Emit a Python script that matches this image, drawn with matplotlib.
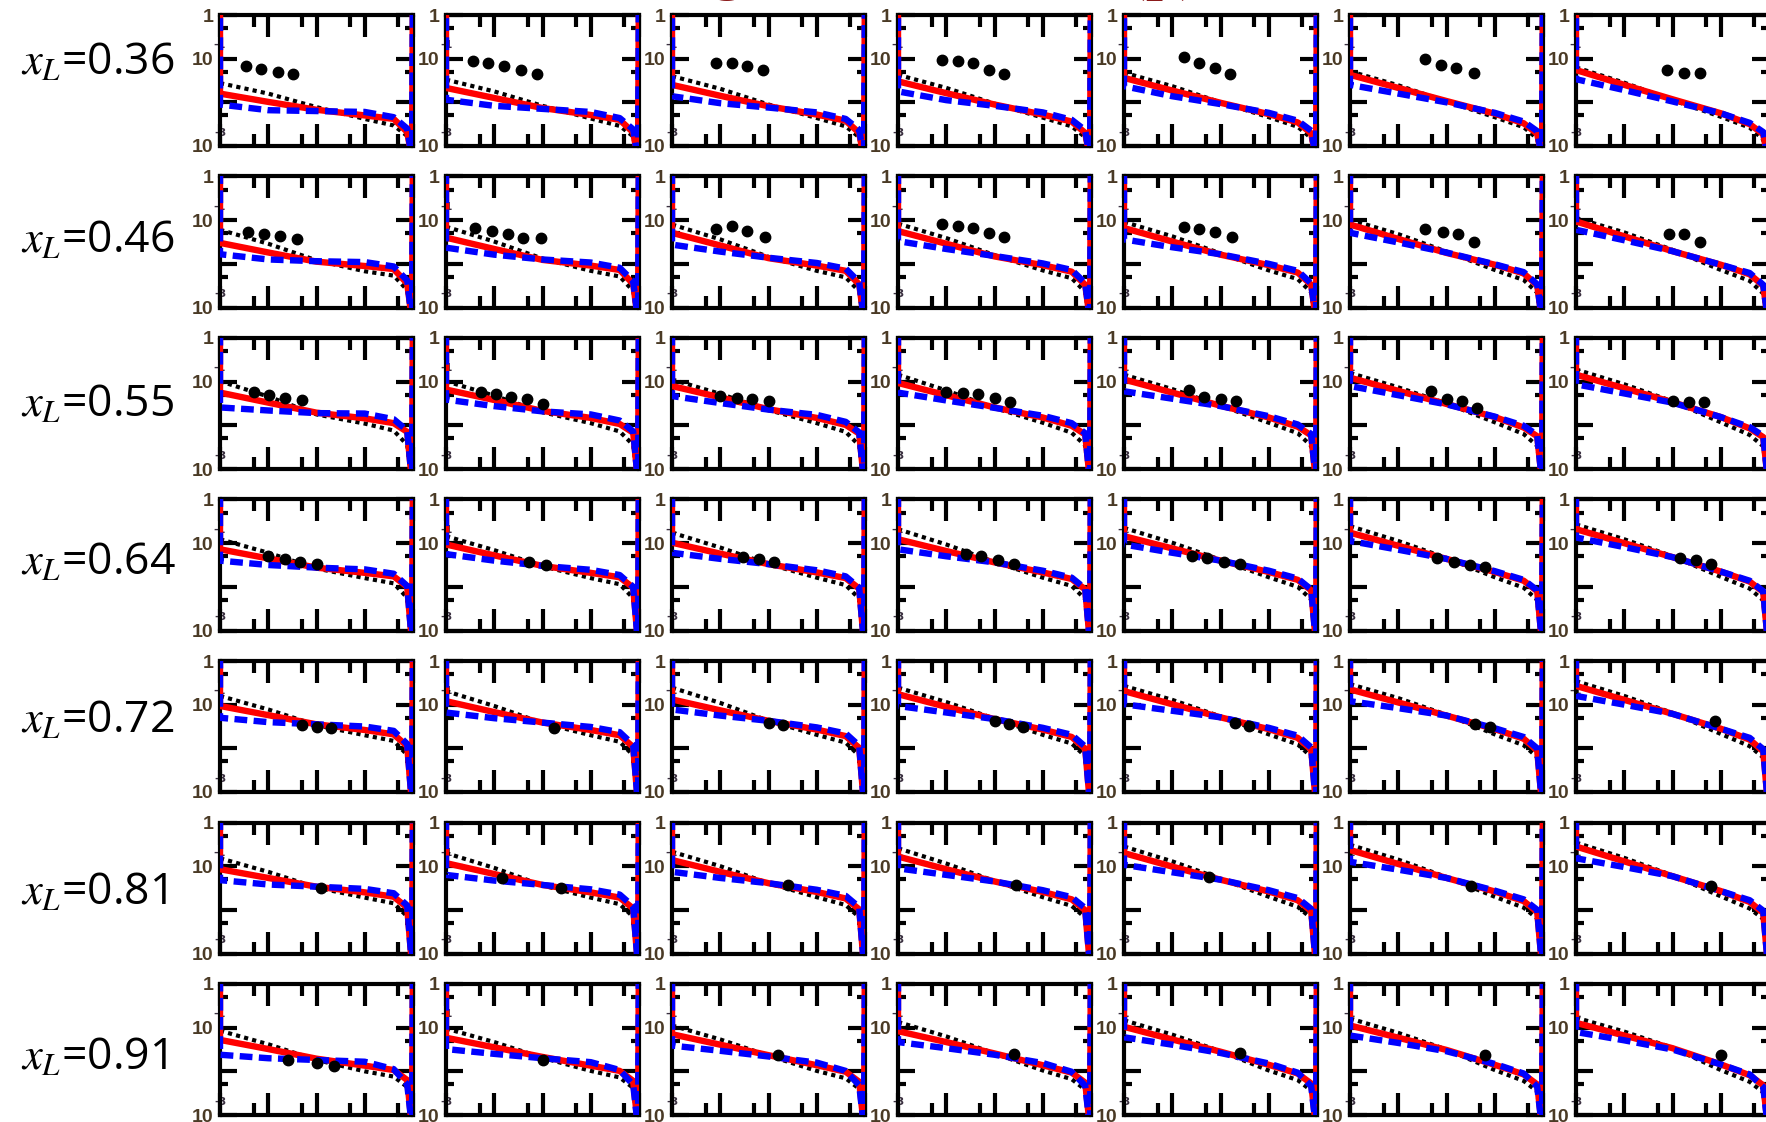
import matplotlib.pyplot as plt

plt.rcParams["mathtext.fontset"] = "stix"

# x_L bins, one per row of panels
xl_values = ["0.36", "0.46", "0.55", "0.64", "0.72", "0.81", "0.91"]

# log10(x) of the points each curve is given at
knot_logx = [-4.0, -3.0, -2.0, -1.0, -0.4, -0.12, -0.02]

# curve values as log10(y), laid out [row][knot][column]
red_log = [
    [[-1.80, -1.67, -1.60, -1.52, -1.44, -1.37, -1.26],
     [-1.99, -1.90, -1.85, -1.79, -1.73, -1.67, -1.60],
     [-2.17, -2.13, -2.09, -2.05, -2.01, -1.97, -1.93],
     [-2.30, -2.29, -2.28, -2.28, -2.27, -2.26, -2.25],
     [-2.38, -2.40, -2.42, -2.44, -2.46, -2.48, -2.50],
     [-2.68, -2.69, -2.70, -2.70, -2.71, -2.72, -2.73],
     [-3.30, -3.30, -3.30, -3.30, -3.30, -3.30, -3.30]],
    [[-1.52, -1.40, -1.29, -1.25, -1.18, -1.10, -1.03],
     [-1.74, -1.66, -1.58, -1.54, -1.49, -1.43, -1.37],
     [-1.95, -1.91, -1.87, -1.83, -1.79, -1.75, -1.71],
     [-2.05, -2.04, -2.04, -2.03, -2.03, -2.02, -2.02],
     [-2.12, -2.14, -2.16, -2.18, -2.20, -2.22, -2.24],
     [-2.45, -2.46, -2.47, -2.48, -2.48, -2.49, -2.50],
     [-3.30, -3.30, -3.30, -3.30, -3.30, -3.30, -3.30]],
    [[-1.25, -1.18, -1.10, -1.03, -0.95, -0.91, -0.84],
     [-1.48, -1.42, -1.36, -1.31, -1.25, -1.21, -1.15],
     [-1.71, -1.67, -1.63, -1.59, -1.55, -1.51, -1.47],
     [-1.84, -1.83, -1.83, -1.82, -1.82, -1.81, -1.81],
     [-1.95, -1.97, -1.99, -2.01, -2.03, -2.05, -2.07],
     [-2.15, -2.17, -2.19, -2.21, -2.23, -2.25, -2.27],
     [-3.30, -3.30, -3.30, -3.30, -3.30, -3.30, -3.30]],
    [[-1.14, -1.03, -0.99, -0.91, -0.84, -0.76, -0.68],
     [-1.35, -1.28, -1.24, -1.18, -1.12, -1.06, -1.00],
     [-1.56, -1.52, -1.48, -1.44, -1.40, -1.36, -1.32],
     [-1.68, -1.68, -1.67, -1.67, -1.66, -1.66, -1.65],
     [-1.76, -1.78, -1.80, -1.82, -1.84, -1.86, -1.88],
     [-2.00, -2.02, -2.04, -2.06, -2.08, -2.10, -2.12],
     [-3.30, -3.30, -3.30, -3.30, -3.30, -3.30, -3.30]],
    [[-1.03, -0.92, -0.88, -0.76, -0.69, -0.65, -0.57],
     [-1.24, -1.17, -1.13, -1.05, -0.99, -0.95, -0.89],
     [-1.45, -1.41, -1.37, -1.33, -1.29, -1.25, -1.21],
     [-1.58, -1.58, -1.57, -1.57, -1.56, -1.56, -1.55],
     [-1.68, -1.70, -1.72, -1.74, -1.76, -1.78, -1.80],
     [-1.95, -1.97, -1.99, -2.01, -2.03, -2.05, -2.07],
     [-3.30, -3.30, -3.30, -3.30, -3.30, -3.30, -3.30]],
    [[-1.07, -0.93, -0.86, -0.78, -0.70, -0.63, -0.55],
     [-1.27, -1.18, -1.13, -1.07, -1.01, -0.95, -0.89],
     [-1.47, -1.43, -1.39, -1.35, -1.31, -1.27, -1.23],
     [-1.60, -1.60, -1.59, -1.59, -1.58, -1.58, -1.57],
     [-1.70, -1.72, -1.74, -1.76, -1.78, -1.80, -1.82],
     [-1.95, -1.97, -1.99, -2.01, -2.03, -2.05, -2.07],
     [-3.30, -3.30, -3.30, -3.30, -3.30, -3.30, -3.30]],
    [[-1.28, -1.23, -1.15, -1.08, -0.98, -0.95, -0.89],
     [-1.49, -1.45, -1.39, -1.33, -1.27, -1.23, -1.18],
     [-1.71, -1.67, -1.63, -1.59, -1.55, -1.51, -1.47],
     [-1.87, -1.87, -1.86, -1.86, -1.85, -1.85, -1.84],
     [-1.97, -1.99, -2.01, -2.03, -2.05, -2.07, -2.09],
     [-2.20, -2.22, -2.24, -2.26, -2.28, -2.30, -2.32],
     [-3.30, -3.30, -3.30, -3.30, -3.30, -3.30, -3.30]],
]

black_log = [
    [[-1.56, -1.48, -1.40, -1.37, -1.32, -1.29, -1.20],
     [-1.80, -1.75, -1.69, -1.67, -1.63, -1.61, -1.55],
     [-2.11, -2.08, -2.05, -2.03, -2.00, -1.98, -1.95],
     [-2.38, -2.37, -2.36, -2.35, -2.34, -2.34, -2.33],
     [-2.53, -2.54, -2.55, -2.55, -2.56, -2.57, -2.58],
     [-2.77, -2.78, -2.80, -2.80, -2.82, -2.83, -2.85],
     [-3.40, -3.40, -3.40, -3.40, -3.40, -3.40, -3.40]],
    [[-1.22, -1.15, -1.10, -1.08, -1.04, -0.99, -0.95],
     [-1.54, -1.49, -1.44, -1.41, -1.37, -1.32, -1.28],
     [-1.92, -1.88, -1.84, -1.80, -1.76, -1.72, -1.68],
     [-2.17, -2.16, -2.16, -2.15, -2.15, -2.14, -2.14],
     [-2.27, -2.29, -2.31, -2.33, -2.35, -2.37, -2.39],
     [-2.60, -2.62, -2.63, -2.64, -2.65, -2.66, -2.68],
     [-3.40, -3.40, -3.40, -3.40, -3.40, -3.40, -3.40]],
    [[-0.99, -0.99, -0.95, -0.84, -0.84, -0.80, -0.72],
     [-1.34, -1.32, -1.28, -1.20, -1.17, -1.13, -1.06],
     [-1.75, -1.70, -1.65, -1.60, -1.55, -1.50, -1.45],
     [-1.96, -1.95, -1.95, -1.94, -1.94, -1.93, -1.93],
     [-2.12, -2.14, -2.15, -2.17, -2.18, -2.20, -2.22],
     [-2.45, -2.45, -2.46, -2.46, -2.47, -2.47, -2.48],
     [-3.40, -3.40, -3.40, -3.40, -3.40, -3.40, -3.40]],
    [[-0.91, -0.84, -0.76, -0.68, -0.65, -0.61, -0.57],
     [-1.22, -1.16, -1.10, -1.03, -0.99, -0.95, -0.91],
     [-1.58, -1.53, -1.48, -1.43, -1.38, -1.34, -1.30],
     [-1.80, -1.80, -1.79, -1.79, -1.78, -1.78, -1.77],
     [-1.92, -1.94, -1.96, -1.98, -2.00, -2.02, -2.04],
     [-2.25, -2.26, -2.27, -2.28, -2.29, -2.30, -2.31],
     [-3.40, -3.40, -3.40, -3.40, -3.40, -3.40, -3.40]],
    [[-0.80, -0.69, -0.61, -0.61, -0.57, -0.53, -0.46],
     [-1.11, -1.03, -0.96, -0.94, -0.89, -0.85, -0.80],
     [-1.47, -1.42, -1.37, -1.32, -1.27, -1.23, -1.19],
     [-1.70, -1.70, -1.69, -1.69, -1.68, -1.68, -1.67],
     [-1.83, -1.85, -1.87, -1.89, -1.91, -1.93, -1.95],
     [-2.15, -2.16, -2.17, -2.18, -2.19, -2.20, -2.21],
     [-3.40, -3.40, -3.40, -3.40, -3.40, -3.40, -3.40]],
    [[-0.82, -0.70, -0.67, -0.59, -0.55, -0.51, -0.46],
     [-1.13, -1.04, -1.00, -0.94, -0.89, -0.85, -0.81],
     [-1.49, -1.44, -1.39, -1.34, -1.29, -1.25, -1.21],
     [-1.72, -1.72, -1.71, -1.71, -1.70, -1.70, -1.69],
     [-1.85, -1.87, -1.89, -1.91, -1.93, -1.95, -1.97],
     [-2.15, -2.16, -2.17, -2.18, -2.19, -2.20, -2.21],
     [-3.40, -3.40, -3.40, -3.40, -3.40, -3.40, -3.40]],
    [[-1.07, -1.02, -0.95, -0.87, -0.83, -0.79, -0.77],
     [-1.38, -1.33, -1.27, -1.20, -1.16, -1.12, -1.09],
     [-1.74, -1.69, -1.64, -1.59, -1.54, -1.50, -1.46],
     [-2.00, -1.99, -1.99, -1.98, -1.98, -1.97, -1.97],
     [-2.12, -2.14, -2.16, -2.18, -2.20, -2.22, -2.24],
     [-2.36, -2.38, -2.40, -2.42, -2.44, -2.46, -2.48],
     [-3.40, -3.40, -3.40, -3.40, -3.40, -3.40, -3.40]],
]

blue_log = [
    [[-2.05, -1.94, -1.86, -1.75, -1.63, -1.60, -1.47],
     [-2.18, -2.08, -2.02, -1.95, -1.86, -1.80, -1.72],
     [-2.20, -2.15, -2.12, -2.08, -2.04, -2.00, -1.98],
     [-2.22, -2.22, -2.23, -2.23, -2.24, -2.24, -2.25],
     [-2.34, -2.36, -2.38, -2.40, -2.42, -2.44, -2.47],
     [-2.60, -2.62, -2.63, -2.64, -2.65, -2.66, -2.68],
     [-3.30, -3.30, -3.30, -3.30, -3.30, -3.30, -3.30]],
    [[-1.78, -1.63, -1.56, -1.48, -1.44, -1.29, -1.22],
     [-1.90, -1.79, -1.72, -1.66, -1.62, -1.51, -1.46],
     [-1.94, -1.90, -1.86, -1.82, -1.78, -1.74, -1.71],
     [-1.96, -1.97, -1.98, -1.99, -2.00, -2.01, -2.02],
     [-2.06, -2.09, -2.11, -2.14, -2.16, -2.19, -2.21],
     [-2.38, -2.40, -2.42, -2.44, -2.45, -2.47, -2.48],
     [-3.30, -3.30, -3.30, -3.30, -3.30, -3.30, -3.30]],
    [[-1.59, -1.41, -1.33, -1.25, -1.22, -1.10, -1.06],
     [-1.66, -1.56, -1.49, -1.43, -1.39, -1.31, -1.27],
     [-1.72, -1.68, -1.64, -1.60, -1.56, -1.52, -1.48],
     [-1.73, -1.75, -1.76, -1.78, -1.79, -1.80, -1.81],
     [-1.86, -1.89, -1.92, -1.95, -1.98, -2.01, -2.04],
     [-2.12, -2.14, -2.16, -2.18, -2.20, -2.22, -2.24],
     [-3.30, -3.30, -3.30, -3.30, -3.30, -3.30, -3.30]],
    [[-1.40, -1.25, -1.22, -1.14, -1.03, -0.95, -0.87],
     [-1.50, -1.40, -1.36, -1.30, -1.22, -1.15, -1.09],
     [-1.56, -1.52, -1.48, -1.44, -1.40, -1.36, -1.32],
     [-1.60, -1.61, -1.62, -1.63, -1.63, -1.64, -1.65],
     [-1.70, -1.73, -1.76, -1.79, -1.81, -1.84, -1.86],
     [-1.98, -2.00, -2.02, -2.04, -2.06, -2.08, -2.10],
     [-3.30, -3.30, -3.30, -3.30, -3.30, -3.30, -3.30]],
    [[-1.30, -1.18, -1.11, -1.03, -0.99, -0.92, -0.80],
     [-1.40, -1.31, -1.25, -1.18, -1.14, -1.08, -1.00],
     [-1.45, -1.41, -1.37, -1.33, -1.29, -1.25, -1.21],
     [-1.50, -1.51, -1.52, -1.53, -1.53, -1.54, -1.55],
     [-1.60, -1.63, -1.66, -1.69, -1.71, -1.74, -1.76],
     [-1.90, -1.92, -1.94, -1.96, -1.98, -2.00, -2.02],
     [-3.30, -3.30, -3.30, -3.30, -3.30, -3.30, -3.30]],
    [[-1.32, -1.20, -1.13, -1.05, -0.97, -0.90, -0.82],
     [-1.42, -1.33, -1.27, -1.20, -1.14, -1.08, -1.02],
     [-1.47, -1.43, -1.39, -1.35, -1.31, -1.27, -1.23],
     [-1.52, -1.53, -1.54, -1.55, -1.55, -1.56, -1.57],
     [-1.62, -1.65, -1.68, -1.71, -1.73, -1.76, -1.78],
     [-1.90, -1.92, -1.94, -1.96, -1.98, -2.00, -2.02],
     [-3.30, -3.30, -3.30, -3.30, -3.30, -3.30, -3.30]],
    [[-1.62, -1.49, -1.41, -1.33, -1.22, -1.18, -1.10],
     [-1.70, -1.60, -1.53, -1.47, -1.39, -1.35, -1.29],
     [-1.74, -1.70, -1.66, -1.62, -1.58, -1.54, -1.50],
     [-1.78, -1.79, -1.80, -1.81, -1.82, -1.83, -1.84],
     [-1.95, -1.97, -1.99, -2.01, -2.03, -2.05, -2.07],
     [-2.30, -2.31, -2.32, -2.33, -2.34, -2.35, -2.36],
     [-3.30, -3.30, -3.30, -3.30, -3.30, -3.30, -3.30]],
]

# red and blue run off the top of each panel at both x limits
edge_high = 10.0

# measured points: log10(x) and log10(y), [row][column]
dot_logx = [
    [[-3.47, -3.14, -2.80, -2.48], [-3.44, -3.12, -2.80, -2.44, -2.12],
     [-3.08, -2.76, -2.44, -2.12], [-3.08, -2.76, -2.44, -2.12, -1.80],
     [-2.76, -2.44, -2.12, -1.80], [-2.44, -2.12, -1.80, -1.44],
     [-2.12, -1.76, -1.44]],
    [[-3.42, -3.08, -2.76, -2.40], [-3.40, -3.04, -2.72, -2.40, -2.04],
     [-3.08, -2.76, -2.44, -2.08], [-3.08, -2.76, -2.44, -2.12, -1.80],
     [-2.76, -2.44, -2.12, -1.76], [-2.44, -2.08, -1.76, -1.44],
     [-2.08, -1.76, -1.44]],
    [[-3.30, -2.99, -2.65, -2.30], [-3.28, -2.96, -2.66, -2.32, -2.00],
     [-3.00, -2.66, -2.34, -2.00], [-3.00, -2.66, -2.34, -2.00, -1.68],
     [-2.66, -2.34, -2.00, -1.68], [-2.32, -2.00, -1.68, -1.36],
     [-2.00, -1.66, -1.34]],
    [[-3.00, -2.66, -2.34, -2.00], [-2.28, -1.92],
     [-2.52, -2.20, -1.88], [-2.60, -2.28, -1.92, -1.60],
     [-2.60, -2.28, -1.92, -1.60], [-2.20, -1.84, -1.52, -1.20],
     [-1.84, -1.52, -1.20]],
    [[-2.30, -2.00, -1.70], [-1.76], [-2.00, -1.70], [-2.00, -1.70, -1.40],
     [-1.70, -1.40], [-1.40, -1.10], [-1.12]],
    [[-1.90], [-2.84, -1.62], [-1.60], [-1.56], [-2.24], [-1.50], [-1.20]],
    [[-2.60, -2.00, -1.64], [-2.00], [-1.80], [-1.60], [-1.60], [-1.20], [-1.00]],
]
dot_logy = [
    [[-1.17, -1.23, -1.30, -1.35], [-1.06, -1.11, -1.17, -1.27, -1.35],
     [-1.11, -1.11, -1.17, -1.27], [-1.04, -1.06, -1.11, -1.25, -1.35],
     [-0.96, -1.11, -1.22, -1.35], [-1.01, -1.14, -1.22, -1.33],
     [-1.25, -1.33, -1.33]],
    [[-1.26, -1.32, -1.37, -1.44], [-1.18, -1.24, -1.32, -1.40, -1.40],
     [-1.21, -1.13, -1.24, -1.39], [-1.08, -1.13, -1.18, -1.29, -1.39],
     [-1.16, -1.21, -1.26, -1.39], [-1.21, -1.26, -1.32, -1.50],
     [-1.32, -1.32, -1.50]],
    [[-1.23, -1.31, -1.38, -1.42], [-1.24, -1.29, -1.34, -1.40, -1.50],
     [-1.32, -1.37, -1.40, -1.45], [-1.24, -1.27, -1.29, -1.37, -1.47],
     [-1.19, -1.34, -1.40, -1.45], [-1.22, -1.40, -1.45, -1.60],
     [-1.45, -1.47, -1.47]],
    [[-1.30, -1.36, -1.42, -1.48], [-1.42, -1.50],
     [-1.32, -1.37, -1.42], [-1.24, -1.29, -1.39, -1.47],
     [-1.29, -1.34, -1.42, -1.47], [-1.34, -1.42, -1.50, -1.55],
     [-1.34, -1.39, -1.47]],
    [[-1.47, -1.50, -1.53], [-1.53], [-1.42, -1.47], [-1.38, -1.45, -1.50],
     [-1.42, -1.48], [-1.45, -1.52], [-1.37]],
    [[-1.51], [-1.27, -1.49], [-1.43], [-1.43], [-1.25], [-1.45], [-1.45]],
    [[-1.74, -1.82, -1.88], [-1.75], [-1.62], [-1.60], [-1.57], [-1.62], [-1.62]],
]

# figure and panel geometry in pixels
W, H = 1766, 1122
fig = plt.figure(figsize=(W / 100, H / 100), dpi=100)
panel_w, panel_h = 193, 131
label_color = "#4a3a25"
label_baseline = [74, 252, 416, 574, 732, 904, 1069]


def to_lin(vals):
    return [10 ** v for v in vals]


for r in range(7):
    top = 15 + 161.5 * r
    for c in range(7):
        left = 220 + 226 * c
        ax = fig.add_axes([left / W, 1 - (top + panel_h) / H, panel_w / W, panel_h / H])
        ax.set_xscale("log")
        ax.set_yscale("log")

        xs = to_lin(knot_logx)
        red = to_lin([red_log[r][k][c] for k in range(7)])
        black = to_lin([black_log[r][k][c] for k in range(7)])
        blue = to_lin([blue_log[r][k][c] for k in range(7)])

        ax.plot(xs, black, color="black", lw=3.0, linestyle=(0, (1, 1)),
                dash_capstyle="butt", zorder=3)
        ax.plot([xs[0]] + xs + [1.0], [edge_high] + red + [edge_high],
                color="red", lw=4.6, zorder=4)
        ax.plot([xs[0]] + xs + [1.0], [edge_high] + blue + [edge_high],
                color="blue", lw=4.6, linestyle=(0, (2.0, 1.0)),
                dash_capstyle="butt", zorder=5)
        ax.plot(to_lin(dot_logx[r][c]), to_lin(dot_logy[r][c]), "o",
                color="black", ms=7.5, zorder=6)

        ax.set_xlim(1e-4, 1)
        ax.set_ylim(1e-3, 1)

        # log ticks: decades long, 5x10^n short, pointing inwards on all sides
        ax.set_xticks([1e-4, 1e-3, 1e-2, 1e-1, 1])
        ax.set_xticks([5e-4, 5e-3, 5e-2, 5e-1], minor=True)
        ax.set_yticks([1e-3, 1e-2, 1e-1, 1])
        ax.set_yticks([5e-3, 5e-2, 5e-1], minor=True)
        ax.set_xticklabels([])
        ax.set_xticklabels([], minor=True)
        ax.set_yticklabels(["10", "", "10", "1"])
        ax.set_yticklabels([], minor=True)
        ax.tick_params(which="both", direction="in", top=True, right=True,
                       width=3, color="black")
        ax.xaxis.set_tick_params(which="major", length=16)
        ax.xaxis.set_tick_params(which="minor", length=8.5)
        ax.yaxis.set_tick_params(which="major", length=12.5, pad=4.5,
                                 labelsize=14, labelcolor=label_color)
        ax.yaxis.set_tick_params(which="minor", length=6)
        for lab in ax.get_yticklabels():
            lab.set_fontweight("bold")
            lab.set_family("Liberation Sans")

        # exponents of the 10^-1 and 10^-3 labels sit on the spine
        for yv, txt in [(1e-1, "-1"), (1e-3, "-3")]:
            ax.annotate(txt, xy=(0, yv), xycoords=("axes fraction", "data"),
                        xytext=(4.5, 9.5), textcoords="offset points",
                        ha="right", va="center", fontsize=8,
                        fontweight="bold", color="#3a3040", zorder=2)

        for sp in ax.spines.values():
            sp.set_linewidth(3)

    fig.text(21 / W, 1 - label_baseline[r] / H, r"$x_L$=" + xl_values[r],
             ha="left", va="baseline", fontsize=32, family="Open Sans")

# title along the top edge, mostly cut off by the frame
fig.text(1200 / W, 1 + 12 / H, "Leading neutron, data (p)", ha="right",
         va="baseline", fontsize=44, family="Liberation Serif",
         fontweight="bold", color="#8b1a1a")

plt.savefig("out.png", dpi=100)
